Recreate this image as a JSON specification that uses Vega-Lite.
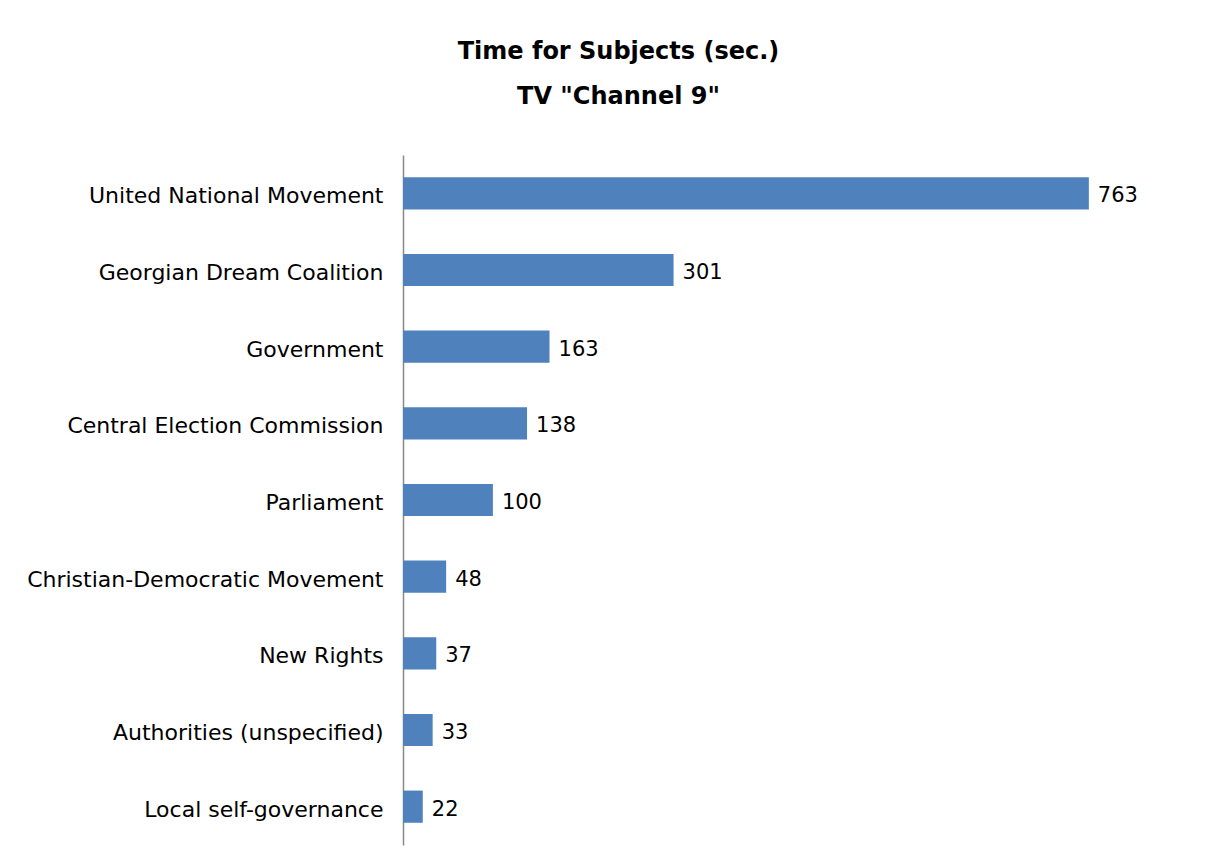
{
  "$schema": "https://vega.github.io/schema/vega-lite/v6.json",
  "autosize": {"type": "none"},
  "width": 809,
  "height": 690,
  "padding": {"left": 403, "top": 155, "right": 10, "bottom": 16},
  "background": "white",
  "config": {"view": {"stroke": null}, "font": "DejaVu Sans"},
  "title": {
    "text": ["Time for Subjects (sec.)", "TV \"Channel 9\""],
    "fontSize": 24,
    "fontWeight": "bold",
    "font": "DejaVu Sans",
    "color": "#000000",
    "lineHeight": 45,
    "anchor": "middle",
    "dx": -189,
    "offset": 46
  },
  "data": {
    "values": [
      {"subject": "United National Movement", "seconds": 763},
      {"subject": "Georgian Dream Coalition", "seconds": 301},
      {"subject": "Government", "seconds": 163},
      {"subject": "Central Election Commission", "seconds": 138},
      {"subject": "Parliament", "seconds": 100},
      {"subject": "Christian-Democratic Movement", "seconds": 48},
      {"subject": "New Rights", "seconds": 37},
      {"subject": "Authorities (unspecified)", "seconds": 33},
      {"subject": "Local self-governance", "seconds": 22}
    ]
  },
  "encoding": {
    "y": {
      "field": "subject",
      "type": "nominal",
      "sort": null,
      "scale": {"paddingInner": 0.58, "paddingOuter": 0.29},
      "axis": {
        "title": null,
        "ticks": false,
        "labelPadding": 20,
        "labelOffset": 3,
        "labelFontSize": 22,
        "labelFont": "DejaVu Sans",
        "labelColor": "#000000",
        "domainColor": "#898989",
        "domainWidth": 1.5,
        "labelLimit": 400
      }
    },
    "x": {
      "field": "seconds",
      "type": "quantitative",
      "scale": {"domain": [0, 900], "nice": false},
      "axis": null
    }
  },
  "layer": [
    {"mark": {"type": "bar", "color": "#4F81BD"}},
    {
      "mark": {"type": "text", "align": "left", "dx": 9, "dy": 3, "fontSize": 21, "font": "DejaVu Sans", "color": "#000000"},
      "encoding": {"text": {"field": "seconds", "type": "quantitative"}}
    }
  ]
}
